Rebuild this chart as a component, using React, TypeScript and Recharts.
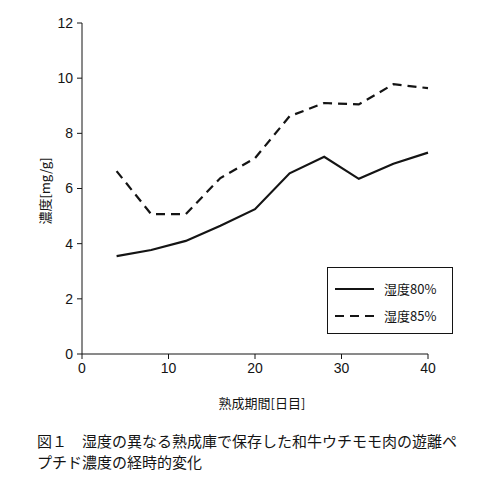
import { LineChart, Line, XAxis, YAxis, Legend } from "recharts";

const DAYS = [4, 8, 12, 16, 20, 24, 28, 32, 36, 40];
const HUMID_80 = [3.55, 3.77, 4.1, 4.65, 5.25, 6.55, 7.15, 6.35, 6.9, 7.3];
const HUMID_85 = [6.63, 5.07, 5.07, 6.38, 7.1, 8.62, 9.1, 9.05, 9.78, 9.64];
const X_TICKS = [0, 10, 20, 30, 40];
const Y_TICKS = [0, 2, 4, 6, 8, 10, 12];

const SERIES = [
  { key: "h80", name: "湿度80%", dash: undefined as string | undefined },
  { key: "h85", name: "湿度85%", dash: "9 6" },
];

const data = DAYS.map((d, i) => ({ day: d, h80: HUMID_80[i], h85: HUMID_85[i] }));

const INK = "#141414";
const JP = "'Noto Sans CJK JP', sans-serif";
const tick = { fontSize: 14, fill: INK, fontFamily: "'Liberation Sans', sans-serif" };

function LegendBox({ payload }: any) {
  return (
    <div
      style={{
        border: `1px solid ${INK}`,
        width: 124,
        height: 58,
        paddingTop: 7,
        fontFamily: JP,
        fontSize: 13,
        color: INK,
        background: "#fff",
      }}
    >
      {(payload || []).map((p: any) => {
        const s = SERIES.find((x) => x.key === p.dataKey);
        return (
          <div key={p.dataKey} style={{ display: "flex", alignItems: "center", height: 27 }}>
            <svg width={56} height={10} style={{ display: "block" }}>
              <line x1={7} y1={5} x2={46} y2={5} stroke={INK} strokeWidth={2.2} strokeDasharray={s?.dash} />
            </svg>
            <span>{p.value}</span>
          </div>
        );
      })}
    </div>
  );
}

export default function App() {
  return (
    <div style={{ position: "absolute", left: 0, top: 0, width: 491, height: 502, background: "#fff" }}>
      <LineChart width={491} height={502} data={data} margin={{ top: 23, right: 63, bottom: 118, left: 52 }}>
        <XAxis
          dataKey="day"
          type="number"
          domain={[0, 40]}
          ticks={X_TICKS}
          tick={tick}
          tickSize={5}
          tickMargin={4}
          height={30}
          stroke={INK}
          tickLine={{ stroke: INK }}
        />
        <YAxis
          domain={[0, 12]}
          ticks={Y_TICKS}
          tick={tick}
          tickSize={5}
          tickMargin={4}
          width={30}
          stroke={INK}
          tickLine={{ stroke: INK }}
        />
        <Legend
          layout="vertical"
          align="center"
          verticalAlign="middle"
          content={<LegendBox />}
          wrapperStyle={{ position: "absolute", left: 327, top: 267, width: "auto", bottom: "auto", right: "auto" }}
        />
        {SERIES.map((s) => (
          <Line
            key={s.key}
            dataKey={s.key}
            name={s.name}
            stroke={INK}
            strokeWidth={2.2}
            strokeDasharray={s.dash}
            dot={false}
            isAnimationActive={false}
          />
        ))}
      </LineChart>
      <div
        style={{
          position: "absolute",
          left: 44,
          top: 191,
          transform: "translate(-50%, -50%) rotate(-90deg)",
          whiteSpace: "nowrap",
          fontFamily: JP,
          fontSize: 13,
          color: INK,
        }}
      >
        濃度[mg/g]
      </div>
      <div
        style={{
          position: "absolute",
          left: 262,
          top: 402,
          transform: "translate(-50%, -50%)",
          whiteSpace: "nowrap",
          fontFamily: JP,
          fontSize: 13,
          color: INK,
        }}
      >
        熟成期間[日目]
      </div>
      <div
        style={{
          position: "absolute",
          left: 37,
          top: 430,
          fontFamily: JP,
          fontSize: 15,
          lineHeight: "21px",
          color: INK,
          whiteSpace: "nowrap",
        }}
      >
        <div>図１　湿度の異なる熟成庫で保存した和牛ウチモモ肉の遊離ペ</div>
        <div>プチド濃度の経時的変化</div>
      </div>
    </div>
  );
}
